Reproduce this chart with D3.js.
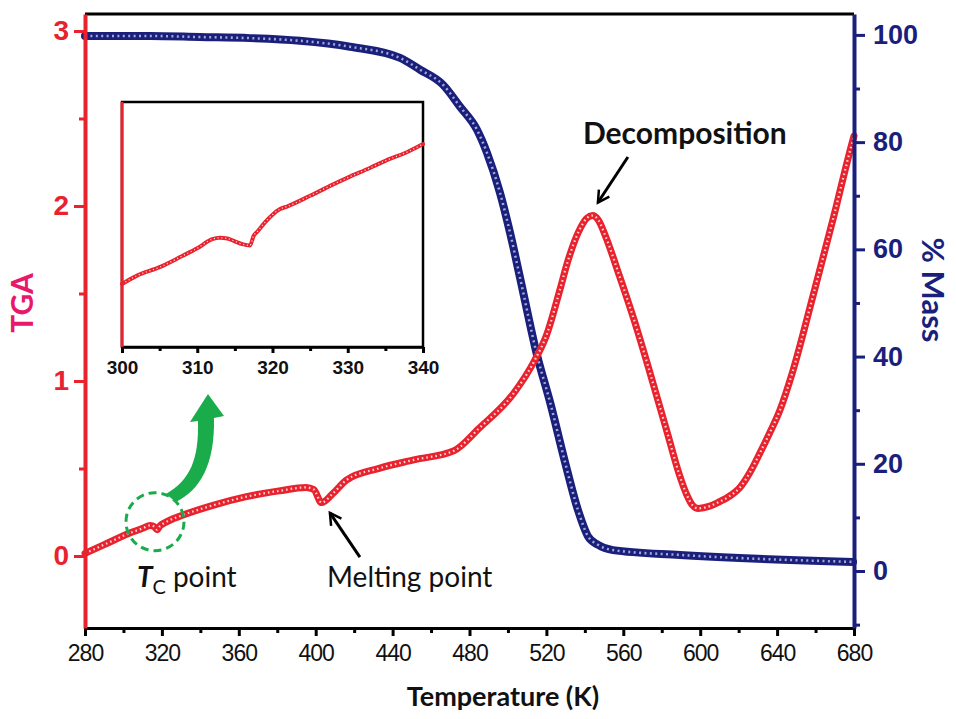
<!DOCTYPE html>
<html>
<head>
<meta charset="utf-8">
<script src="https://cdn.jsdelivr.net/npm/d3@7"></script>
<style>
body { margin: 0; background: #fff; }
svg { display: block; font-family: Lato, "Open Sans", sans-serif; }
</style>
</head>
<body>
<svg id="chart" width="956" height="719"></svg>
<script>
// TGA (left axis)
var tgaTemp = [280, 290, 303, 310, 314, 316, 317.5, 319, 321, 331, 347, 364, 381, 395, 399, 403, 409, 416, 433, 451, 472, 485, 503, 514, 520, 527, 531, 537.5, 541, 544, 547, 551, 558, 567, 573, 583, 589, 593, 596, 599, 605, 610, 615, 621, 626, 631, 636, 641.5, 648, 659, 669, 679, 680];
var tgaValue = [0.015, 0.065, 0.13, 0.158, 0.175, 0.168, 0.15, 0.172, 0.187, 0.234, 0.291, 0.339, 0.372, 0.392, 0.38, 0.305, 0.358, 0.434, 0.501, 0.549, 0.602, 0.73, 0.93, 1.12, 1.26, 1.52, 1.68, 1.87, 1.93, 1.945, 1.92, 1.82, 1.6, 1.3, 1.08, 0.7, 0.47, 0.35, 0.29, 0.272, 0.285, 0.31, 0.34, 0.396, 0.48, 0.587, 0.7, 0.834, 1.05, 1.5, 1.92, 2.36, 2.4];

// % mass (right axis)
var massTemp = [280, 313.8, 339.8, 365.8, 391.8, 417.8, 443.9, 454.3, 466.2, 475.1, 483.9, 489.1, 495.9, 501.1, 506.3, 515.1, 521.9, 529.7, 536.4, 541.6, 546.8, 554.6, 589.5, 679.5];
var massValue = [99.8, 99.8, 99.6, 99.4, 98.9, 97.8, 95.7, 93.5, 90.7, 86.6, 82.3, 78.0, 70.5, 63.1, 54.7, 40.3, 31.5, 20.3, 11.4, 6.5, 4.9, 3.9, 3.0, 1.7];

// inset, 300-340 K
var insetTemp = [300, 302, 305, 308, 310, 312, 313, 314, 315, 316, 317, 317.5, 318, 319, 320, 321, 322, 325, 328, 330, 333, 335, 338, 340];
var insetValue = [0.12, 0.132, 0.144, 0.16, 0.171, 0.184, 0.186, 0.185, 0.181, 0.177, 0.175, 0.189, 0.195, 0.208, 0.219, 0.227, 0.231, 0.246, 0.262, 0.272, 0.286, 0.296, 0.309, 0.32];

var tempTicks = [280, 320, 360, 400, 440, 480, 520, 560, 600, 640, 680];
var tempMinor = [300, 340, 380, 420, 460, 500, 540, 580, 620, 660];
var tgaTicks = [0, 1, 2, 3];
var tgaMinor = [0.5, 1.5, 2.5];
var massTicks = [0, 20, 40, 60, 80, 100];
var massMinor = [-10, 10, 30, 50, 70, 90];
var insetTicks = [300, 310, 320, 330, 340];
var insetMinor = [305, 315, 325, 335];

var RED = '#e8232e', NAVY = '#1a1f7c', GREEN = '#1aab4b';

var svg = d3.select('#chart');
var pLeft = 85, pRight = 854, pTop = 14, pBottom = 628;

var x = d3.scaleLinear().domain([280, 680]).range([pLeft, pRight]);
var yTga = d3.scaleLinear().domain([-0.4114, 3.097]).range([pBottom, pTop]);
var yMass = d3.scaleLinear().domain([-10.63, 103.9]).range([pBottom, pTop]);

var tgaData = tgaTemp.map(function (t, i) { return [t, tgaValue[i]]; });
var massData = massTemp.map(function (t, i) { return [t, massValue[i]]; });
var insetData = insetTemp.map(function (t, i) { return [t, insetValue[i]]; });

function beaded(g, data, sx, sy, color, bead, w, dash) {
	var line = d3.line()
		.x(function (d) { return sx(d[0]); })
		.y(function (d) { return sy(d[1]); })
		.curve(d3.curveMonotoneX);
	g.append('path').datum(data)
		.attr('d', line).attr('fill', 'none')
		.attr('stroke', color).attr('stroke-width', w)
		.attr('stroke-linejoin', 'round').attr('stroke-linecap', 'round');
	g.append('path').datum(data)
		.attr('d', line).attr('fill', 'none')
		.attr('stroke', bead).attr('stroke-width', w * 0.32)
		.attr('stroke-dasharray', dash).attr('opacity', 0.8);
}

function styleAxis(a, color, w) {
	a.selectAll('line').attr('stroke', color).attr('stroke-width', 3);
	a.select('.domain').attr('stroke', color).attr('stroke-width', w);
}

// top frame
svg.append('line')
	.attr('x1', pLeft).attr('x2', pRight).attr('y1', pTop).attr('y2', pTop)
	.attr('stroke', '#000').attr('stroke-width', 3);

// curves
var plot = svg.append('g');
beaded(plot, massData, x, yMass, NAVY, '#c3cbe6', 8, '2 3.4');
beaded(plot, tgaData, x, yTga, RED, '#ffffff', 7, '1.6 3');

// bottom axis
var xMinor = svg.append('g').attr('transform', 'translate(0,' + pBottom + ')')
	.call(d3.axisBottom(x).tickValues(tempMinor).tickSize(5).tickFormat(''));
var xAxis = svg.append('g').attr('transform', 'translate(0,' + pBottom + ')')
	.call(d3.axisBottom(x).tickValues(tempTicks).tickSize(8).tickSizeOuter(0).tickPadding(9));
xMinor.select('.domain').remove();
styleAxis(xMinor, '#000', 3);
styleAxis(xAxis, '#000', 3);
xAxis.selectAll('text')
	.attr('fill', '#111').style('font-size', '23px').attr('letter-spacing', '-1');

// left axis
var lMinor = svg.append('g').attr('transform', 'translate(' + pLeft + ',0)')
	.call(d3.axisLeft(yTga).tickValues(tgaMinor).tickSize(6).tickFormat(''));
var lAxis = svg.append('g').attr('transform', 'translate(' + pLeft + ',0)')
	.call(d3.axisLeft(yTga).tickValues(tgaTicks).tickSize(11).tickSizeOuter(0).tickPadding(5)
		.tickFormat(d3.format('d')));
lMinor.select('.domain').remove();
styleAxis(lMinor, RED, 4);
styleAxis(lAxis, RED, 4);
lAxis.selectAll('text')
	.attr('fill', RED).style('font-size', '28px').style('font-weight', 'bold');

// right axis
var rMinor = svg.append('g').attr('transform', 'translate(' + pRight + ',0)')
	.call(d3.axisRight(yMass).tickValues(massMinor).tickSize(6).tickFormat(''));
var rAxis = svg.append('g').attr('transform', 'translate(' + pRight + ',0)')
	.call(d3.axisRight(yMass).tickValues(massTicks).tickSize(11).tickSizeOuter(0).tickPadding(8));
rMinor.select('.domain').remove();
styleAxis(rMinor, NAVY, 4);
styleAxis(rAxis, NAVY, 4);
rAxis.selectAll('text')
	.attr('fill', NAVY).style('font-size', '27px').style('font-weight', 'bold');

// axis titles
svg.append('text')
	.attr('x', 503).attr('y', 706).attr('text-anchor', 'middle')
	.style('font-size', '27px').style('font-weight', 'bold').attr('fill', '#111')
	.text('Temperature (K)');
svg.append('text')
	.attr('transform', 'translate(33,303) rotate(-90)').attr('text-anchor', 'middle')
	.style('font-size', '30px').style('font-weight', 'bold').attr('fill', '#e8186a')
	.text('TGA');
svg.append('text')
	.attr('transform', 'translate(922,290) rotate(90)').attr('text-anchor', 'middle')
	.style('font-size', '31px').style('font-weight', 'bold').attr('fill', NAVY)
	.text('% Mass');

// inset
var ix = d3.scaleLinear().domain([300, 340]).range([122, 423]);
var iy = d3.scaleLinear().domain([0.03, 0.38]).range([347, 102]);
var inset = svg.append('g');
inset.append('rect')
	.attr('x', 122).attr('y', 102).attr('width', 301).attr('height', 245)
	.attr('fill', '#fff').attr('stroke', '#000').attr('stroke-width', 2.5);
beaded(inset, insetData, ix, iy, RED, '#ffffff', 4, '1.2 2.6');
var iMinor = inset.append('g').attr('transform', 'translate(0,347)')
	.call(d3.axisBottom(ix).tickValues(insetMinor).tickSize(4).tickFormat(''));
var iAxis = inset.append('g').attr('transform', 'translate(0,347)')
	.call(d3.axisBottom(ix).tickValues(insetTicks).tickSize(6).tickSizeOuter(0).tickPadding(8));
iMinor.select('.domain').remove();
styleAxis(iMinor, '#000', 2.5);
styleAxis(iAxis, '#000', 2.5);
iAxis.selectAll('text')
	.attr('fill', '#111').style('font-size', '19px').style('font-weight', 'bold');
inset.append('line')
	.attr('x1', 122).attr('x2', 122).attr('y1', 102).attr('y2', 347)
	.attr('stroke', RED).attr('stroke-width', 3);

// annotations
svg.append('defs').append('marker')
	.attr('id', 'head').attr('viewBox', '0 0 12 12')
	.attr('refX', 10).attr('refY', 6)
	.attr('markerWidth', 5).attr('markerHeight', 5)
	.attr('orient', 'auto')
	.append('path').attr('d', 'M1,1 L10,6 L1,11')
	.attr('fill', 'none').attr('stroke', '#000').attr('stroke-width', 2);

function arrow(t0, v0, t1, v1) {
	svg.append('line')
		.attr('x1', x(t0)).attr('y1', yTga(v0))
		.attr('x2', x(t1)).attr('y2', yTga(v1))
		.attr('stroke', '#000').attr('stroke-width', 3)
		.attr('marker-end', 'url(#head)');
}
arrow(562.4, 2.28, 546.8, 2.02);
arrow(423, -0.006, 407.4, 0.246);

svg.append('text')
	.attr('x', x(592)).attr('y', yTga(2.41) + 10).attr('text-anchor', 'middle')
	.style('font-size', '30px').style('font-weight', 'bold').attr('fill', '#111')
	.text('Decomposition');
svg.append('text')
	.attr('x', x(405.9)).attr('y', yTga(-0.12) + 10)
	.style('font-size', '28px').attr('fill', '#111')
	.text('Melting point');
var tc = svg.append('text')
	.attr('x', x(307)).attr('y', yTga(-0.12) + 10)
	.style('font-size', '28px').attr('fill', '#111');
tc.append('tspan').style('font-style', 'italic').style('font-weight', 'bold').text('T');
tc.append('tspan').attr('dy', 7).style('font-size', '20px').text('C');
tc.append('tspan').attr('dy', -7).attr('dx', 7).text('point');

// green circle and curved arrow
var cx = x(316.4), cy = yTga(0.196);
svg.append('circle')
	.attr('cx', cx).attr('cy', cy).attr('r', 29)
	.attr('fill', 'none').attr('stroke', GREEN).attr('stroke-width', 3)
	.attr('stroke-dasharray', '8 5');
svg.append('path')
	.attr('transform', 'translate(' + (cx - 155) + ',' + (cy - 521.7) + ')')
	.attr('d', 'M166,494 C190,480 199,460 198,421 L190,422 L208,394 L224,416 L214,418 C215,465 200,490 176,502 Z')
	.attr('fill', GREEN);
</script>
</body>
</html>
